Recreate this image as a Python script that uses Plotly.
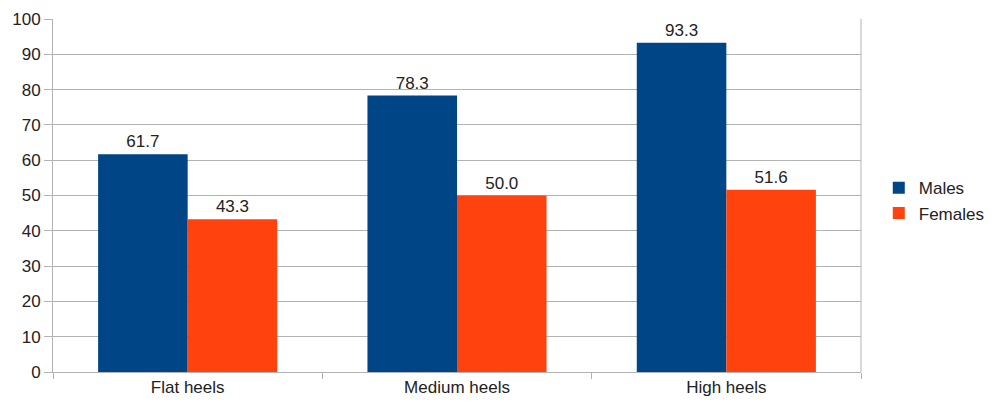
import plotly.graph_objects as go

categories = ["Flat heels", "Medium heels", "High heels"]
males = [61.7, 78.3, 93.3]
females = [43.3, 50.0, 51.6]
y_ticks = [0, 10, 20, 30, 40, 50, 60, 70, 80, 90, 100]

font = dict(family="Liberation Sans, Arial, sans-serif", size=17, color="#222222")

fig = go.Figure()
fig.add_trace(go.Bar(
    name="Males", x=categories, y=males,
    marker=dict(color="#004586", line=dict(width=0)),
    text=[f"{v:.1f}" for v in males], textposition="outside",
    textfont=dict(size=17, color="#222222"), cliponaxis=False,
))
fig.add_trace(go.Bar(
    name="Females", x=categories, y=females,
    marker=dict(color="#ff420e", line=dict(width=0)),
    text=[f"{v:.1f}" for v in females], textposition="outside",
    textfont=dict(size=17, color="#222222"), cliponaxis=False,
))

fig.update_layout(
    width=995, height=409,
    margin=dict(l=53, r=134, t=19, b=37, autoexpand=False),
    paper_bgcolor="white", plot_bgcolor="white",
    font=font,
    barmode="group", bargap=0.335, bargroupgap=0,
    showlegend=True,
    legend=dict(x=1.022, xanchor="left", y=0.485, yanchor="middle",
                font=dict(size=17, color="#222222"), itemwidth=30,
                tracegroupgap=2),
)
fig.update_yaxes(
    range=[0, 100], tickvals=y_ticks, ticktext=[str(v) for v in y_ticks],
    showgrid=True, gridcolor="#b3b3b3", gridwidth=1,
    showline=True, linecolor="#b3b3b3", linewidth=1,
    ticks="outside", ticklen=8, tickcolor="#b3b3b3",
    zeroline=False, tickfont=font,
)
fig.update_xaxes(
    showline=True, linecolor="#b3b3b3", linewidth=1, mirror=False,
    ticks="outside", tickson="boundaries", ticklen=6, tickcolor="#b3b3b3",
    showgrid=False, tickfont=font,
)
# right border of the plot area
fig.add_shape(type="line", xref="paper", yref="paper", x0=1, x1=1, y0=0, y1=1,
              line=dict(color="#b3b3b3", width=1))

fig.write_html("out.html")
